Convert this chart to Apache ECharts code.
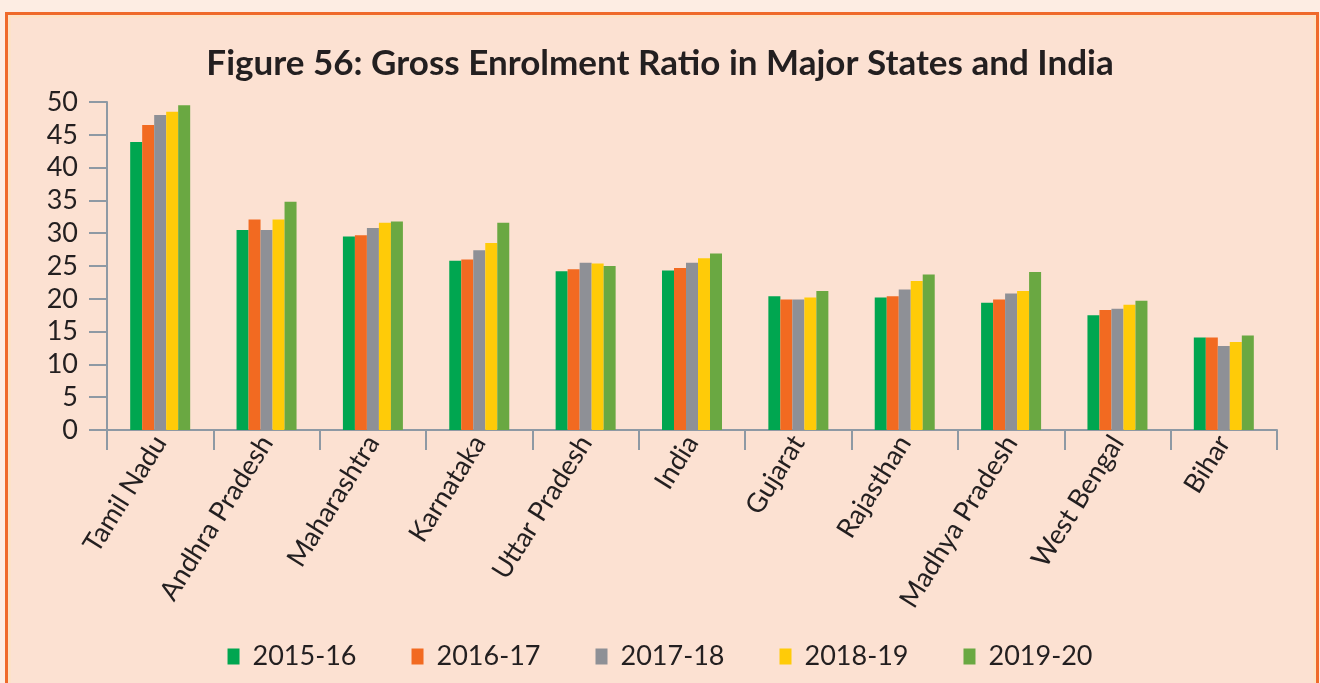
<!DOCTYPE html>
<html>
<head>
<meta charset="utf-8">
<script src="https://cdn.jsdelivr.net/npm/echarts@6/dist/echarts.min.js"></script>
<style>
  html, body { margin: 0; padding: 0; background: #fdede3; }
  #chart { width: 1320px; height: 683px; }
</style>
</head>
<body>
<div id="chart"></div>
<script>
// Gross Enrolment Ratio by state, five academic years
const states = ['Tamil Nadu', 'Andhra Pradesh', 'Maharashtra', 'Karnataka', 'Uttar Pradesh',
  'India', 'Gujarat', 'Rajasthan', 'Madhya Pradesh', 'West Bengal', 'Bihar'];
const years = ['2015-16', '2016-17', '2017-18', '2018-19', '2019-20'];
const ger2015 = [43.9, 30.5, 29.5, 25.8, 24.2, 24.3, 20.4, 20.2, 19.4, 17.5, 14.1];
const ger2016 = [46.5, 32.1, 29.7, 26.0, 24.5, 24.7, 19.9, 20.4, 19.9, 18.3, 14.1];
const ger2017 = [48.0, 30.5, 30.8, 27.4, 25.5, 25.5, 19.9, 21.4, 20.8, 18.5, 12.8];
const ger2018 = [48.5, 32.1, 31.6, 28.5, 25.4, 26.2, 20.2, 22.7, 21.2, 19.1, 13.4];
const ger2019 = [49.5, 34.8, 31.8, 31.6, 25.0, 26.9, 21.2, 23.7, 24.1, 19.7, 14.4];
const yTicks = { min: 0, max: 50, step: 5 };

const seriesValues = [ger2015, ger2016, ger2017, ger2018, ger2019];
const colors = ['#00a650', '#f26a21', '#8e9096', '#ffcb08', '#6aa842'];
const font = 'Lato, "Open Sans", sans-serif';
const axisGrey = '#8e99a4';

const chart = echarts.init(document.getElementById('chart'));
chart.setOption({
  backgroundColor: '#fdede3',
  animation: false,
  color: colors,
  graphic: [
    { type: 'rect', z: -10, shape: { x: 6.5, y: 13.5, width: 1311, height: 700 },
      style: { fill: '#fce1d2', stroke: '#ef6a2a', lineWidth: 3 } },
    { type: 'rect', z: -9, shape: { x: 9.5, y: 16.5, width: 1305, height: 700 },
      style: { fill: 'none', stroke: '#fde4c0', lineWidth: 2 } }
  ],
  title: {
    text: 'Figure 56: Gross Enrolment Ratio in Major States and India',
    left: 'center',
    top: 41,
    textStyle: { fontFamily: font, fontWeight: 'bold', fontSize: 35, color: '#231f20' }
  },
  legend: {
    data: years,
    bottom: 8,
    left: 'center',
    itemWidth: 12,
    itemHeight: 16,
    itemGap: 55,
    icon: 'rect',
    textStyle: { fontFamily: font, fontSize: 27, color: '#231f20', padding: [0, 0, 0, 8] }
  },
  grid: { left: 107, right: 43, top: 102, bottom: 253, containLabel: false },
  xAxis: {
    type: 'category',
    data: states,
    axisLine: { lineStyle: { color: axisGrey, width: 2 } },
    axisTick: { show: true, length: 20, lineStyle: { color: axisGrey, width: 2 } },
    axisLabel: {
      rotate: 58, interval: 0, margin: 8, padding: [18, 0, 0, 0],
      fontFamily: font, fontSize: 27, color: '#231f20'
    }
  },
  yAxis: {
    type: 'value',
    min: yTicks.min,
    max: yTicks.max,
    interval: yTicks.step,
    splitLine: { show: false },
    axisLine: { show: true, lineStyle: { color: axisGrey, width: 2 } },
    axisTick: { show: true, length: 18, lineStyle: { color: axisGrey, width: 2 } },
    axisLabel: { margin: 29, fontFamily: font, fontSize: 27, color: '#231f20' }
  },
  series: years.map((y, i) => ({
    name: y,
    type: 'bar',
    data: seriesValues[i],
    barWidth: 12,
    barGap: '0%'
  }))
});
</script>
</body>
</html>
